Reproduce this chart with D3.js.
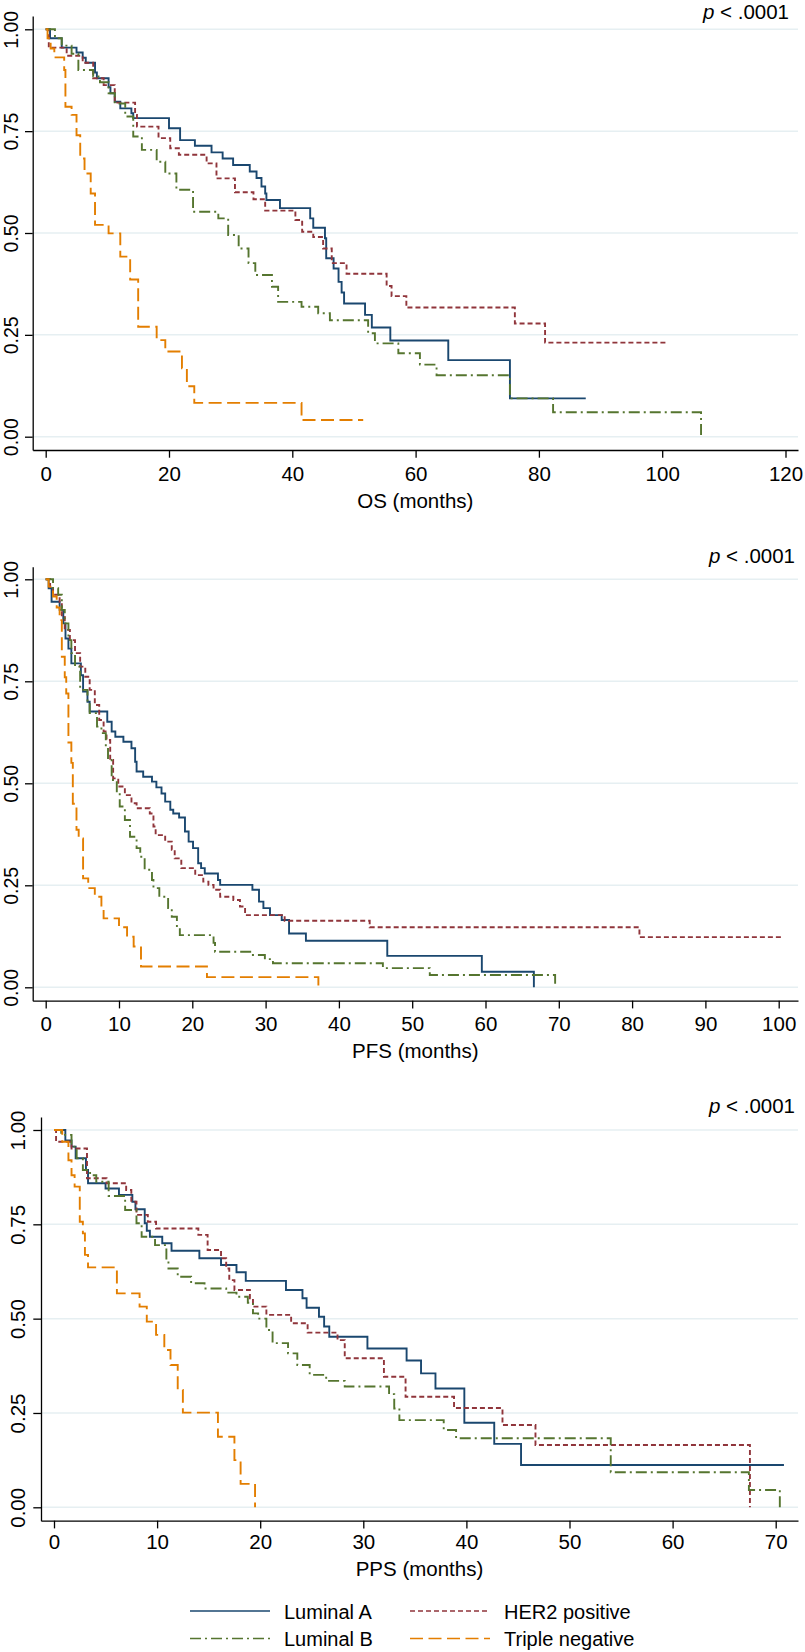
<!DOCTYPE html>
<html>
<head>
<meta charset="utf-8">
<script src="https://cdn.jsdelivr.net/npm/d3@7"></script>
<style>
html,body{margin:0;padding:0;background:#fff;}
svg{display:block;font-family:"Liberation Sans",Arial,Helvetica,sans-serif;}
</style>
</head>
<body>
<svg id="chart" width="805" height="1652"></svg>
<script>
// ---------- DATA (time in months, survival proportion) ----------
const seriesNames = ["Luminal A", "HER2 positive", "Luminal B", "Triple negative"];
const pLabel = "p < .0001";
const yTickValues = [0, 0.25, 0.5, 0.75, 1];

const osTicks = [0, 20, 40, 60, 80, 100, 120];
const pfsTicks = [0, 10, 20, 30, 40, 50, 60, 70, 80, 90, 100];
const ppsTicks = [0, 10, 20, 30, 40, 50, 60, 70];

const osLumA = [[0,1],[0.7,.978],[2.6,.955],[5.0,.943],[6.0,.930],[6.5,.918],[8.0,.894],[8.3,.880],[10.2,.858],[10.5,.843],[11.2,.822],[12.1,.806],[13.9,.794],[14.2,.782],[20.0,.757],[21.8,.728],[24.2,.714],[26.9,.698],[28.7,.683],[30.4,.667],[33.1,.651],[34.2,.635],[35.0,.614],[35.6,.597],[35.8,.581],[38.0,.561],[42.9,.536],[43.4,.513],[45.3,.487],[45.5,.438],[46.7,.413],[47.5,.38],[48.0,.354],[48.4,.327],[51.8,.299],[52.9,.268],[55.9,.236],[65.3,.188],[75.3,.094],[87.6,.094]];
const osHer2 = [[0,1],[0.5,.955],[3.4,.935],[6.0,.918],[7.7,.88],[9.4,.863],[11.2,.82],[14.5,.79],[14.8,.761],[18.3,.733],[20.2,.708],[21.6,.692],[26.1,.671],[27.7,.634],[30.7,.60],[33.7,.583],[35.6,.555],[40.5,.532],[41.6,.503],[43.4,.49],[45.0,.462],[46.4,.426],[48.8,.40],[55.3,.37],[56.1,.345],[58.5,.317],[76.1,.278],[81.0,.231],[100.8,.231]];
const osLumB = [[0,1],[1.5,.978],[2.6,.96],[4.2,.94],[5.3,.90],[7.7,.884],[8.8,.87],[10.2,.843],[11.2,.818],[12.9,.786],[14.2,.737],[15.6,.704],[18.0,.675],[19.4,.646],[21.2,.606],[23.9,.552],[28.0,.536],[29.6,.495],[31.3,.462],[32.9,.426],[34.0,.397],[36.7,.368],[37.7,.331],[41.5,.319],[44.2,.303],[46.1,.286],[52.3,.254],[53.4,.229],[57.2,.205],[60.7,.177],[63.4,.151],[75.3,.094],[82.3,.06],[106.3,0]];
const osTN = [[0,1],[0.3,.978],[0.8,.953],[1.4,.931],[3.0,.90],[3.2,.81],[4.2,.79],[5.0,.74],[5.6,.683],[6.3,.646],[7.3,.597],[8.0,.52],[10.2,.499],[12.1,.442],[13.7,.386],[15.0,.27],[18.0,.237],[19.4,.209],[22.1,.168],[22.9,.124],[24.1,.083],[41.5,.041],[51.5,.041]];

const pfsLumA = [[0,1],[0.4,.978],[0.8,.945],[1.9,.925],[2.4,.892],[2.7,.855],[3.1,.83],[3.5,.794],[4.8,.765],[5.1,.725],[5.7,.70],[6.0,.676],[8.4,.651],[9.0,.627],[9.5,.614],[10.6,.602],[11.7,.586],[12.2,.553],[12.4,.529],[13.3,.516],[14.5,.504],[15.1,.49],[15.8,.475],[16.3,.455],[17.0,.435],[17.4,.426],[18.2,.416],[19.0,.382],[19.5,.357],[20.1,.341],[20.8,.304],[21.2,.292],[21.7,.279],[23.5,.263],[23.8,.251],[28.2,.239],[29.1,.21],[29.7,.194],[30.6,.177],[32.2,.165],[33.2,.132],[35.5,.114],[46.6,.077],[59.5,.038],[66.6,0]];
const pfsHer2 = [[0,1],[0.6,.978],[1.0,.962],[1.9,.945],[2.2,.908],[2.6,.876],[3.3,.851],[4.0,.819],[4.7,.786],[5.4,.761],[6.0,.729],[6.7,.692],[7.3,.655],[7.9,.627],[8.3,.606],[8.8,.557],[9.2,.512],[9.9,.492],[10.8,.471],[11.7,.451],[12.4,.439],[14.2,.426],[14.7,.394],[15.0,.373],[16.3,.357],[17.2,.337],[17.6,.316],[18.5,.292],[20.4,.275],[21.5,.259],[22.2,.251],[22.9,.239],[23.8,.222],[25.6,.214],[26.5,.198],[27.2,.177],[32.6,.163],[44.2,.147],[81.0,.123],[100.6,.123]];
const pfsLumB = [[0,1],[1.0,.978],[1.7,.962],[2.2,.925],[2.6,.892],[3.1,.851],[3.5,.819],[4.0,.786],[4.7,.729],[5.7,.70],[6.0,.672],[7.0,.639],[7.6,.623],[8.2,.59],[8.5,.557],[9.0,.508],[9.7,.476],[10.1,.443],[10.8,.41],[11.5,.369],[12.4,.341],[12.9,.32],[13.5,.288],[14.5,.263],[14.7,.243],[15.5,.222],[16.7,.194],[17.2,.173],[17.9,.145],[18.3,.128],[22.9,.109],[23.1,.087],[27.9,.079],[29.9,.069],[31.0,.059],[46.0,.047],[52.4,.03],[69.5,0]];
const pfsTN = [[0,1],[0.4,.982],[1.0,.958],[1.5,.931],[1.9,.90],[2.2,.81],[2.6,.76],[2.8,.72],[3.1,.60],[3.5,.55],[3.7,.45],[4.2,.386],[4.5,.365],[5.1,.267],[5.8,.243],[6.7,.222],[7.6,.194],[7.9,.169],[10.0,.147],[11.1,.124],[12.0,.10],[13.0,.051],[22.0,.025],[37.2,0]];

const ppsLumA = [[0,1],[1.1,.972],[1.7,.956],[2.1,.925],[3.1,.894],[3.3,.859],[5.0,.845],[6.3,.828],[7.6,.81],[7.9,.79],[8.8,.753],[9.0,.733],[9.3,.717],[10.5,.70],[11.4,.68],[14.1,.66],[16.2,.642],[17.7,.623],[18.6,.60],[22.5,.576],[24.1,.554],[24.5,.529],[25.7,.505],[26.2,.479],[26.7,.452],[30.4,.421],[34.2,.389],[35.6,.355],[37.0,.315],[39.8,.224],[42.7,.168],[45.3,.112],[70.8,.112]];
const ppsHer2 = [[0,1],[0.2,.969],[1.7,.951],[3.2,.872],[5.1,.859],[7.0,.841],[7.5,.81],[8.0,.775],[9.1,.757],[9.9,.739],[14.0,.722],[14.9,.682],[16.2,.66],[16.7,.633],[17.0,.602],[17.5,.576],[19.0,.554],[19.3,.532],[20.6,.51],[23.0,.488],[24.6,.463],[27.5,.443],[28.2,.395],[32.0,.346],[34.1,.293],[38.8,.263],[43.5,.218],[46.7,.165],[67.5,0]];
const ppsLumB = [[0,1],[0.7,.987],[1.7,.956],[2.2,.925],[2.8,.894],[3.5,.88],[4.1,.863],[5.3,.825],[6.9,.788],[8.0,.753],[8.5,.717],[9.8,.695],[10.9,.655],[11.1,.633],[12.0,.611],[13.3,.594],[14.6,.58],[16.7,.569],[17.7,.558],[18.8,.542],[19.3,.514],[19.8,.50],[20.6,.47],[21.2,.435],[22.7,.408],[23.6,.377],[24.8,.351],[26.4,.335],[28.2,.32],[32.5,.30],[33.0,.262],[33.5,.231],[37.8,.205],[39.0,.183],[54.0,.093],[67.4,.046],[70.4,0]];
const ppsTN = [[0,1],[0.8,.969],[1.4,.92],[1.7,.88],[2.0,.85],[2.5,.757],[2.8,.726],[3.0,.669],[3.3,.636],[6.1,.567],[8.3,.532],[9.0,.492],[9.9,.457],[10.7,.417],[11.3,.377],[12.0,.311],[12.5,.251],[15.9,.187],[17.5,.125],[18.1,.062],[19.5,0]];

// ---------- STYLES ----------
const styles = {
  "Luminal A":       {color: "#1a476f", dash: null},
  "HER2 positive":   {color: "#90353b", dash: "5,3"},
  "Luminal B":       {color: "#55752f", dash: "11,4,2,4"},
  "Triple negative": {color: "#e37e00", dash: "13,5.5"}
};
const FONT = 20.5;

const panels = [
  {title: "OS (months)", ticks: osTicks, data: [osLumA, osHer2, osLumB, osTN],
   x0: 45.7, x1: 785.5, y1: 29.3, y0: 436.7, axisX: 32.7, top: 16, bottom: 450, right: 798,
   tickBase: 480.7, titleBase: 508, pBase: 18.5, pRight: 789, yLabX: 18, yFont: 19.5},
  {title: "PFS (months)", ticks: pfsTicks, data: [pfsLumA, pfsHer2, pfsLumB, pfsTN],
   x0: 45.7, x1: 778.7, y1: 579.3, y0: 987.3, axisX: 32.7, top: 566.7, bottom: 1000.7, right: 798,
   tickBase: 1030.7, titleBase: 1058, pBase: 563.3, pRight: 795, yLabX: 18, yFont: 19.5},
  {title: "PPS (months)", ticks: ppsTicks, data: [ppsLumA, ppsHer2, ppsLumB, ppsTN],
   x0: 54, x1: 775.7, y1: 1130, y0: 1507.3, axisX: 41, top: 1117, bottom: 1520.7, right: 798,
   tickBase: 1549.5, titleBase: 1576, pBase: 1113.3, pRight: 795, yLabX: 25, yFont: 20.5}
];

const svg = d3.select("#chart");

panels.forEach(p => {
  const g = svg.append("g");
  const xs0 = d3.scaleLinear().domain([0, d3.max(p.ticks)]).range([p.x0, p.x1]);
  const x = d3.scaleLinear().domain([xs0.invert(p.axisX), xs0.invert(p.right)]).range([p.axisX, p.right]);
  const ys0 = d3.scaleLinear().domain([0, 1]).range([p.y0, p.y1]);
  const y = d3.scaleLinear().domain([ys0.invert(p.bottom), ys0.invert(p.top)]).range([p.bottom, p.top]);

  // gridlines
  g.append("g").selectAll("line").data(yTickValues).join("line")
    .attr("x1", p.axisX).attr("x2", p.right)
    .attr("y1", d => y(d)).attr("y2", d => y(d))
    .attr("stroke", "#e6eff2").attr("stroke-width", 1.5);

  // x axis
  const xa = g.append("g").attr("transform", `translate(0,${p.bottom})`)
    .call(d3.axisBottom(x).tickValues(p.ticks).tickSize(7.7).tickSizeOuter(0).tickFormat(d3.format("d")));
  xa.select(".domain").attr("stroke", "#000").attr("stroke-width", 1.3);
  xa.selectAll(".tick line").attr("stroke", "#000").attr("stroke-width", 1.3);
  xa.selectAll(".tick text").attr("y", p.tickBase - p.bottom).attr("dy", 0)
    .attr("font-size", FONT).attr("font-family", "Liberation Sans, Arial, sans-serif").attr("fill", "#000");

  // y axis
  const ya = g.append("g").attr("transform", `translate(${p.axisX},0)`)
    .call(d3.axisLeft(y).tickValues(yTickValues).tickSize(7.7).tickSizeOuter(0).tickFormat(d3.format(".2f")));
  ya.select(".domain").attr("stroke", "#000").attr("stroke-width", 1.3);
  ya.selectAll(".tick line").attr("stroke", "#000").attr("stroke-width", 1.3);
  ya.selectAll(".tick text")
    .attr("x", 0).attr("y", 0).attr("dy", 0)
    .attr("text-anchor", "middle")
    .attr("transform", `translate(${p.yLabX - p.axisX},0) rotate(-90)`)
    .attr("font-size", p.yFont).attr("font-family", "Liberation Sans, Arial, sans-serif").attr("fill", "#000");

  // curves
  const line = d3.line().x(d => x(d[0])).y(d => y(d[1])).curve(d3.curveStepAfter);
  p.data.forEach((ser, i) => {
    const st = styles[seriesNames[i]];
    g.append("path").datum(ser)
      .attr("d", line)
      .attr("fill", "none")
      .attr("stroke", st.color)
      .attr("stroke-width", 1.9)
      .attr("stroke-dasharray", st.dash)
      .attr("stroke-linejoin", "miter");
  });

  // axis title
  g.append("text").attr("x", (p.axisX + p.right) / 2).attr("y", p.titleBase)
    .attr("text-anchor", "middle").attr("font-size", FONT).text(p.title);

  // p value
  const pt = g.append("text").attr("x", p.pRight).attr("y", p.pBase)
    .attr("text-anchor", "end").attr("font-size", FONT);
  pt.append("tspan").attr("font-style", "italic").text("p");
  pt.append("tspan").text(pLabel.slice(1));
});

// legend
const legendItems = [
  {name: "Luminal A", lx: 190, ty: 1618.5},
  {name: "HER2 positive", lx: 410, ty: 1618.5},
  {name: "Luminal B", lx: 190, ty: 1646},
  {name: "Triple negative", lx: 410, ty: 1646}
];
const lg = svg.append("g");
legendItems.forEach(it => {
  const st = styles[it.name];
  lg.append("line").attr("x1", it.lx).attr("x2", it.lx + 80)
    .attr("y1", it.ty - 7.5).attr("y2", it.ty - 7.5)
    .attr("stroke", st.color).attr("stroke-width", 1.6)
    .attr("stroke-dasharray", st.dash);
  lg.append("text").attr("x", it.lx + 94).attr("y", it.ty)
    .attr("font-size", 20).text(it.name);
});
</script>
</body>
</html>
